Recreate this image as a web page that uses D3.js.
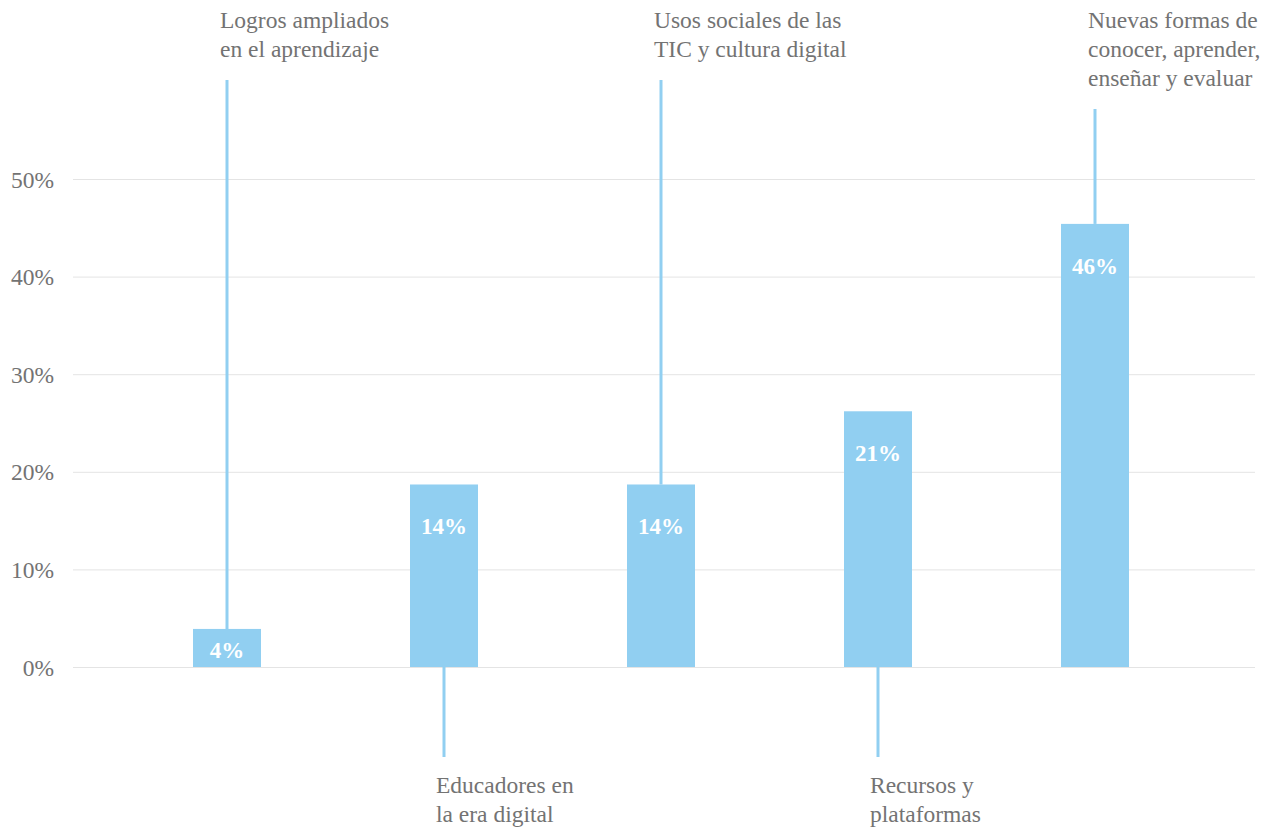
<!DOCTYPE html>
<html>
<head>
<meta charset="utf-8">
<script src="https://cdn.jsdelivr.net/npm/d3@7"></script>
<style>
  html, body { margin: 0; padding: 0; background: #fff; }
  svg { display: block; }
  text { font-family: "Liberation Serif", "Times New Roman", serif; }
</style>
</head>
<body>
<svg id="chart" width="1265" height="827"></svg>
<script>
// ---- data ----
const categories = [
  ["Logros ampliados", "en el aprendizaje"],
  ["Educadores en", "la era digital"],
  ["Usos sociales de las", "TIC y cultura digital"],
  ["Recursos y", "plataformas"],
  ["Nuevas formas de", "conocer, aprender,", "enseñar y evaluar"]
];
const values = [3.9, 18.7, 18.7, 26.2, 45.4];
const valueLabels = ["4%", "14%", "14%", "21%", "46%"];
const labelSides = ["top", "bottom", "top", "bottom", "top"];
const yTicks = [0, 10, 20, 30, 40, 50];

// ---- layout ----
const plotLeft = 73, plotRight = 1255;
const svg = d3.select("#chart");

const x = d3.scalePoint()
  .domain(d3.range(categories.length))
  .range([227, 1095])
  .padding(0);

const y = d3.scaleLinear().domain([0, 50]).range([667, 179]);
const barW = 68;
const barColor = "#91cff1";
const textGray = "#737373";

// gridlines + tick labels
const yAxis = d3.axisLeft(y).tickValues(yTicks)
  .tickSize(-(plotRight - plotLeft)).tickFormat(d => d + "%").tickPadding(19);
const ga = svg.append("g").attr("transform", `translate(${plotLeft},0)`).call(yAxis);
ga.select(".domain").remove();
ga.selectAll(".tick line").attr("stroke", "#e4e4e4").attr("stroke-width", 1);
ga.selectAll(".tick text")
  .attr("fill", textGray)
  .style("font-size", "23.5px")
  .attr("dy", "0.34em");

// leader lines and category labels
const lineH = 29;
const topFirstBaseline = 28;
const g = svg.append("g");
categories.forEach((lines, i) => {
  const cx = x(i);
  if (labelSides[i] === "top") {
    const lineTop = topFirstBaseline + (lines.length - 1) * lineH + 23;
    g.append("line")
      .attr("x1", cx).attr("x2", cx)
      .attr("y1", lineTop).attr("y2", y(values[i]))
      .attr("stroke", barColor).attr("stroke-width", 3);
    const t = g.append("text").attr("fill", textGray).style("font-size", "23.5px");
    lines.forEach((l, k) => t.append("tspan").attr("x", cx - 7)
      .attr("y", topFirstBaseline + k * lineH).text(l));
  } else {
    const lineBottom = 757;
    g.append("line")
      .attr("x1", cx).attr("x2", cx)
      .attr("y1", y(0)).attr("y2", lineBottom)
      .attr("stroke", barColor).attr("stroke-width", 3);
    const t = g.append("text").attr("fill", textGray).style("font-size", "23.5px");
    lines.forEach((l, k) => t.append("tspan").attr("x", cx - 8)
      .attr("y", lineBottom + 36 + k * lineH).text(l));
  }
});

// bars
g.selectAll("rect.bar").data(values).enter().append("rect")
  .attr("class", "bar")
  .attr("x", (d, i) => x(i) - barW / 2)
  .attr("width", barW)
  .attr("y", d => y(d))
  .attr("height", d => y(0) - y(d))
  .attr("fill", barColor);

// value labels
g.selectAll("text.val").data(values).enter().append("text")
  .attr("class", "val")
  .attr("x", (d, i) => x(i))
  .attr("y", d => Math.min(y(d) + 50, y(0) - 9))
  .attr("text-anchor", "middle")
  .attr("fill", "#ffffff")
  .style("font-size", "23px")
  .style("font-weight", "bold")
  .text((d, i) => valueLabels[i]);
</script>
</body>
</html>
